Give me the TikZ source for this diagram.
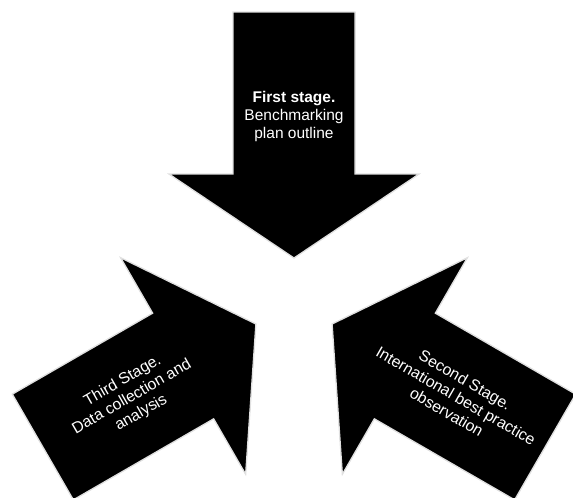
\documentclass[tikz,border=0pt]{standalone}
\usepackage{fontspec}
\setmainfont{Liberation Sans}
\begin{document}
\begin{tikzpicture}[x=1pt,y=-1pt,
  stagearrow/.style={fill=black,draw=black!12,line width=1.3pt,line join=miter},
  toptext/.style={text=white,align=center,font=\fontsize{15.5}{18}\selectfont,inner sep=0pt},
  sidetext/.style={text=white,align=center,font=\fontsize{15.8}{18.5}\selectfont,inner sep=0pt}]
\useasboundingbox (0,0) rectangle (573,498);
\clip (0,0) rectangle (573,498);
\coordinate (C) at (294,302);
\foreach \r in {0,120,240}{
  \path[stagearrow, rotate around={\r:(C)}]
    (233,12) -- (355,12) -- (355,174) -- (419,174) -- (294,258) -- (169,174) -- (233,174) -- cycle;
}
\node[toptext] (first) at (294,116) {\textbf{First stage.}\\Benchmarking\\plan outline};
\node[sidetext, rotate=30] (third) at (132,397) {Third Stage.\\Data collection and\\analysis};
\node[sidetext, rotate=-30] (second) at (456,396) {Second Stage.\\International best practice\\observation};
\end{tikzpicture}
\end{document}
